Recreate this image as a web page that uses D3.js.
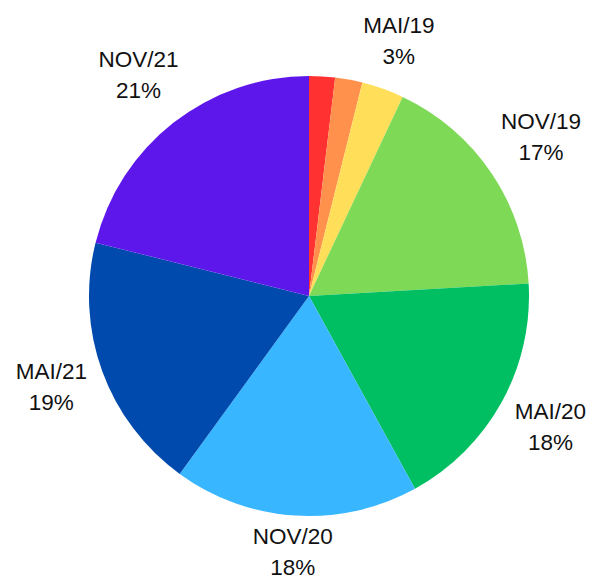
<!DOCTYPE html>
<html>
<head>
<meta charset="utf-8">
<script src="https://cdn.jsdelivr.net/npm/d3@7"></script>
<style>
  body { margin: 0; background: #fff; }
  svg text { font-family: "Liberation Sans", Arial, sans-serif; font-size: 22.5px; fill: #111; }
</style>
</head>
<body>
<div id="chart"></div>
<script>
// Data (percent of total)
const categories = ["MAI/18", "NOV/18", "MAI/19", "NOV/19", "MAI/20", "NOV/20", "MAI/21", "NOV/21"];
const values = [1.9, 2.0, 3.1, 17.1, 17.9, 18.0, 18.9, 21.1];
const colors = ["#ff3131", "#ff914d", "#ffde59", "#7ed957", "#00bf63", "#38b6ff", "#004aad", "#5e17eb"];

const width = 595;
const height = 575;
const cx = 309;
const cy = 296;
const radius = 220;
const labelGap = 12;
const lineStep = 31;
const capH = 16;
const descent = 6;

const data = categories.map((c, i) => ({ name: c, value: values[i], color: colors[i] }));
const total = d3.sum(values);

const svg = d3
  .select("#chart")
  .append("svg")
  .attr("width", width)
  .attr("height", height);

const g = svg.append("g").attr("transform", `translate(${cx},${cy})`);

const pie = d3.pie().sort(null).value((d) => d.value);
const arc = d3.arc().innerRadius(0).outerRadius(radius);
const arcs = pie(data);

g.selectAll("path")
  .data(arcs)
  .join("path")
  .attr("d", arc)
  .attr("fill", (d) => d.data.color);

// distance from origin to nearest point of a box
function boxDist(x, y, hw, hh) {
  const nx = Math.max(x - hw, Math.min(0, x + hw));
  const ny = Math.max(y - hh, Math.min(0, y + hh));
  return Math.hypot(nx, ny);
}

// Labels (small slices are left unlabelled)
const labels = g
  .selectAll("g.label")
  .data(arcs.filter((d) => d.data.value / total >= 0.025))
  .join("g")
  .attr("class", "label");

const boxH = capH + lineStep + descent;
const hh = boxH / 2;

labels.each(function (d) {
  const lg = d3.select(this);
  const pct = d3.format(".0%")(d.data.value / total);
  const t1 = lg.append("text").attr("text-anchor", "middle").attr("y", -hh + capH).text(d.data.name);
  const t2 = lg.append("text").attr("text-anchor", "middle").attr("y", -hh + capH + lineStep).text(pct);
  const w = Math.max(t1.node().getComputedTextLength(), t2.node().getComputedTextLength());
  const hw = w / 2;
  const a = (d.startAngle + d.endAngle) / 2;
  const dx = Math.sin(a);
  const dy = -Math.cos(a);
  // find distance so that the box sits labelGap outside the rim
  let lo = radius, hi = radius * 2;
  for (let i = 0; i < 40; i++) {
    const mid = (lo + hi) / 2;
    if (boxDist(mid * dx, mid * dy, hw, hh) < radius + labelGap) lo = mid;
    else hi = mid;
  }
  lg.attr("transform", `translate(${lo * dx},${lo * dy})`);
});
</script>
</body>
</html>
